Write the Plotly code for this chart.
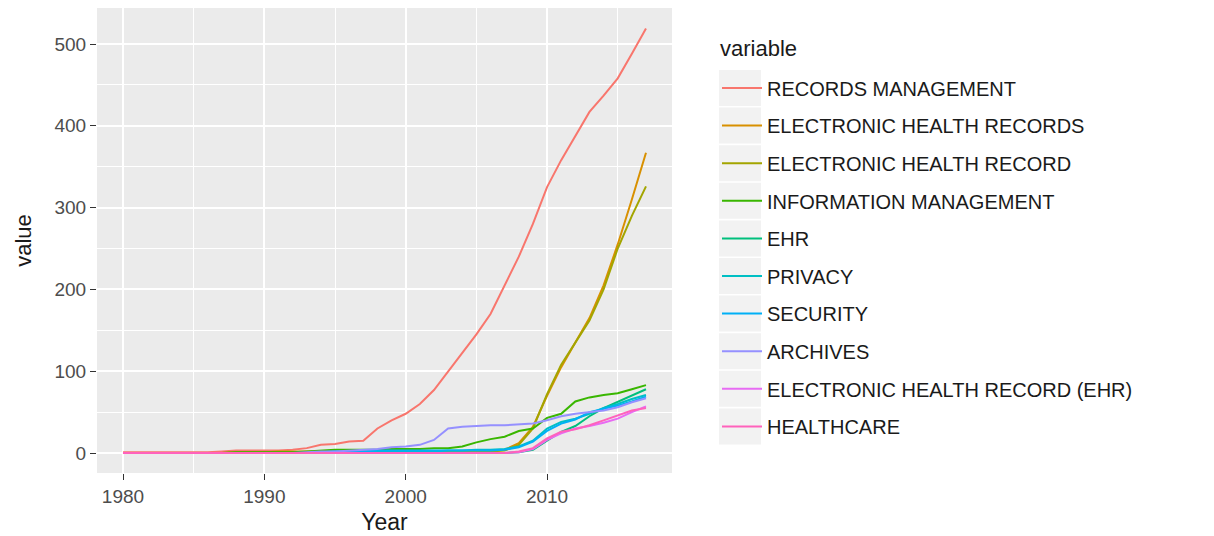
import plotly.graph_objects as go

years = list(range(1980, 2018))

records_management = [1,1,1,1,1,1,1,2,3,3,3,3,4,6,10,11,14,15,30,40,48,60,77,100,122,145,170,205,240,280,325,358,388,417,437,458,488,519]
ehrs = [0]*8 + [1,1,1,2,2,2,2,2,2,2,2,2,2,2,2,2,2,2,3,4,12,32,70,105,135,165,205,255,310,367]
ehr_record = [0]*8 + [1,1,1,1,1,1,1,1,1,1,1,1,1,1,1,1,1,1,2,3,10,30,72,108,135,162,200,250,290,326]
info_mgmt = [0]*8 + [1,1,1,1,1,2,3,4,4,4,4,5,5,5,6,6,8,13,17,20,27,30,43,48,63,68,71,73,78,83]
ehr = [0]*28 + [1,4,15,26,33,45,55,63,71,78]
privacy = [0]*14 + [1,2,2,2,2,2,2,2,2,3,3,4,4,5,8,15,30,38,42,48,55,60,66,71]
security = [0]*14 + [1,2,2,2,3,3,3,3,3,3,3,3,3,4,7,14,27,36,41,50,54,58,63,69]
archives = [0]*13 + [1,2,2,3,4,5,7,8,10,16,30,32,33,34,34,35,36,40,45,48,50,52,56,62,67]
ehr_ehr = [0]*28 + [1,5,16,24,30,33,37,42,50,57]
healthcare = [0]*28 + [2,6,18,26,29,34,40,46,52,55]

names = ["RECORDS MANAGEMENT", "ELECTRONIC HEALTH RECORDS", "ELECTRONIC HEALTH RECORD",
         "INFORMATION MANAGEMENT", "EHR", "PRIVACY", "SECURITY", "ARCHIVES",
         "ELECTRONIC HEALTH RECORD (EHR)", "HEALTHCARE"]
series = [records_management, ehrs, ehr_record, info_mgmt, ehr, privacy, security,
          archives, ehr_ehr, healthcare]
colors = ["#F8766D", "#D89000", "#A3A500", "#39B600", "#00BF7D", "#00BFC4",
          "#00B0F6", "#9590FF", "#E76BF3", "#FF62BC"]

fig = go.Figure()
for i, (n, s, c) in enumerate(zip(names, series, colors)):
    fig.add_trace(go.Scatter(x=years, y=s, mode="lines", name=n,
                             line=dict(color=c, width=2), legendgroup=f"g{i}"))

# page is offset by the 8px body margin
OFF = 8
W, H = 1214 - OFF, 536 - OFF
L, R, T, B = 89, 542, 0, 63
pw = W - L - R
ph = H - T - B

def px2paper(x, y):
    # page pixel -> paper coords
    return (x - OFF - L) / pw, (H - B - (y - OFF)) / ph

shapes = []
for i in range(10):
    cy = 88 + 37.6 * i
    x0, y0 = px2paper(719, cy - 18)
    x1, y1 = px2paper(761, cy + 18)
    shapes.append(dict(type="rect", xref="paper", yref="paper", x0=x0, x1=x1,
                       y0=y1, y1=y0, fillcolor="#F2F2F2", line=dict(width=0),
                       layer="below"))

tx, ty = px2paper(718, 48)
lx, ly = px2paper(717, 68.5)

fig.update_layout(
    width=W, height=H,
    margin=dict(l=L, r=R, t=T, b=B, autoexpand=False),
    paper_bgcolor="white",
    plot_bgcolor="#EBEBEB",
    font=dict(family="Liberation Sans, Arial, sans-serif", color="#1A1A1A"),
    shapes=shapes,
    annotations=[dict(text="variable", xref="paper", yref="paper", x=tx, y=ty,
                      xanchor="left", yanchor="middle", showarrow=False,
                      font=dict(size=22, color="#1A1A1A"))],
    legend=dict(x=lx, y=ly, xanchor="left", yanchor="top",
                font=dict(size=20, color="#1A1A1A"),
                tracegroupgap=8.6, itemwidth=40, bgcolor="rgba(0,0,0,0)"),
    xaxis=dict(range=[1978.16, 2018.84], tickmode="array",
               tickvals=[1980, 1990, 2000, 2010], ticktext=["1980", "1990", "2000", "2010"],
               showgrid=True, gridcolor="white", gridwidth=1.8,
               minor=dict(tickmode="array", tickvals=[1985, 1995, 2005, 2015],
                          showgrid=True, gridcolor="white", gridwidth=0.9),
               zeroline=False, ticks="outside", ticklen=6, tickcolor="#333333",
               tickfont=dict(size=19, color="#4D4D4D"),
               title=dict(text="Year", font=dict(size=23, color="#1A1A1A"), standoff=8)),
    yaxis=dict(range=[-24.4, 544], tickmode="array",
               tickvals=[0, 100, 200, 300, 400, 500],
               showgrid=True, gridcolor="white", gridwidth=1.8,
               minor=dict(tickmode="array", tickvals=[50, 150, 250, 350, 450],
                          showgrid=True, gridcolor="white", gridwidth=0.9),
               zeroline=False, ticks="outside", ticklen=6, tickcolor="#333333",
               tickfont=dict(size=19, color="#4D4D4D"),
               title=dict(text="value", font=dict(size=22, color="#1A1A1A"), standoff=16)),
)

fig.write_html("out.html")
